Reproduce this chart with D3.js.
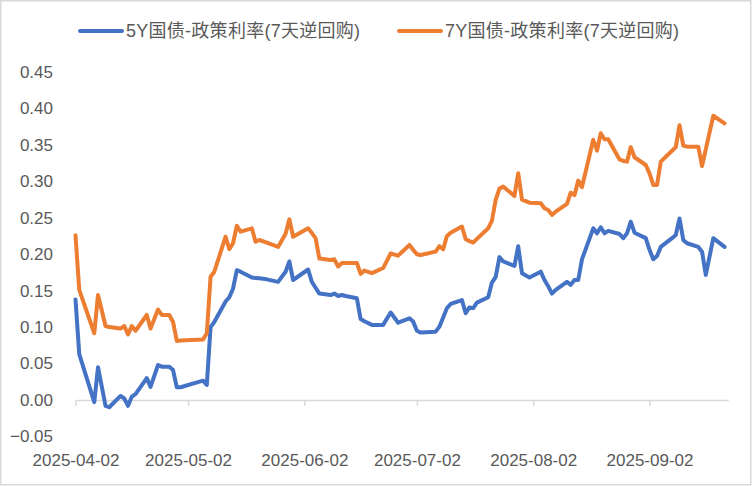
<!DOCTYPE html>
<html>
<head>
<meta charset="utf-8">
<script src="https://cdn.jsdelivr.net/npm/d3@7"></script>
<style>
  html, body { margin: 0; padding: 0; background: #fff; }
  svg { display: block; }
  text { font-family: "Liberation Sans", "Noto Sans CJK SC", sans-serif; fill: #595959; }
</style>
</head>
<body>
<svg id="chart" width="752" height="486"></svg>
<script>
// ---- data ----
const dates = [
  "2025-04-02","2025-04-03","2025-04-07","2025-04-08","2025-04-10","2025-04-11","2025-04-14","2025-04-15",
  "2025-04-16","2025-04-17","2025-04-18","2025-04-21","2025-04-22","2025-04-24","2025-04-25","2025-04-27",
  "2025-04-28","2025-04-29","2025-04-30","2025-05-06","2025-05-07","2025-05-08","2025-05-09","2025-05-12",
  "2025-05-13","2025-05-14","2025-05-15","2025-05-16","2025-05-19","2025-05-20","2025-05-21","2025-05-23",
  "2025-05-26","2025-05-28","2025-05-29","2025-05-30","2025-06-03","2025-06-04","2025-06-05","2025-06-06",
  "2025-06-09","2025-06-10","2025-06-11","2025-06-12","2025-06-13","2025-06-16","2025-06-17","2025-06-18",
  "2025-06-20","2025-06-23","2025-06-25","2025-06-27","2025-06-30","2025-07-01","2025-07-02","2025-07-03",
  "2025-07-07","2025-07-08","2025-07-09","2025-07-10","2025-07-11","2025-07-14","2025-07-15","2025-07-16",
  "2025-07-17","2025-07-18","2025-07-21","2025-07-22","2025-07-23","2025-07-24","2025-07-25","2025-07-28",
  "2025-07-29","2025-07-30","2025-08-01","2025-08-04","2025-08-05","2025-08-06","2025-08-07","2025-08-08",
  "2025-08-11","2025-08-12","2025-08-13","2025-08-14","2025-08-15","2025-08-18","2025-08-19","2025-08-20",
  "2025-08-21","2025-08-22","2025-08-25","2025-08-26","2025-08-27","2025-08-28","2025-08-29","2025-09-01",
  "2025-09-02","2025-09-03","2025-09-04","2025-09-05","2025-09-08","2025-09-09","2025-09-10","2025-09-11",
  "2025-09-12","2025-09-15","2025-09-16","2025-09-17","2025-09-19","2025-09-22"
];
const spread5Y = [
  0.138,0.063,-0.003,0.045,-0.008,-0.010,0.0055,0.002,
  -0.008,0.0045,0.008,0.030,0.018,0.048,0.0457,0.0457,
  0.041,0.0174,0.0174,0.0265,0.0206,0.100,0.107,0.135,
  0.141,0.153,0.178,0.176,0.168,0.1675,0.167,0.1655,
  0.162,0.176,0.190,0.1646,0.179,0.162,0.154,0.146,
  0.144,0.146,0.1427,0.144,0.1427,0.1395,0.111,0.108,
  0.103,0.103,0.120,0.106,0.112,0.1075,0.095,0.0924,
  0.0937,0.1006,0.113,0.126,0.1317,0.137,0.119,0.127,
  0.126,0.1335,0.141,0.161,0.169,0.196,0.190,0.184,
  0.211,0.174,0.168,0.176,0.1646,0.156,0.146,0.151,
  0.162,0.158,0.1646,0.1646,0.193,0.2355,0.2287,0.237,
  0.2287,0.232,0.2277,0.222,0.2287,0.2446,0.2295,0.222,
  0.206,0.193,0.1976,0.210,0.222,0.2264,0.249,0.2195,
  0.215,0.210,0.2035,0.1715,0.222,0.210
];
const spread7Y = [
  0.226,0.151,0.0915,0.144,0.1015,0.100,0.098,0.1015,
  0.090,0.1015,0.095,0.1166,0.098,0.124,0.1166,0.1166,
  0.107,0.081,0.0815,0.083,0.0915,0.169,0.176,0.224,
  0.207,0.215,0.239,0.231,0.2355,0.217,0.2195,0.216,
  0.210,0.228,0.248,0.224,0.2355,0.229,0.222,0.194,
  0.192,0.193,0.183,0.188,0.188,0.188,0.173,0.1775,
  0.174,0.181,0.201,0.198,0.2127,0.206,0.200,0.199,
  0.2035,0.211,0.2067,0.225,0.2295,0.238,0.2205,0.218,
  0.216,0.221,0.2355,0.246,0.2744,0.290,0.2927,0.280,
  0.311,0.275,0.2707,0.270,0.263,0.2607,0.254,0.2583,
  0.269,0.2844,0.281,0.301,0.292,0.357,0.342,0.366,
  0.3577,0.3577,0.330,0.328,0.327,0.347,0.333,0.3224,
  0.311,0.295,0.295,0.327,0.342,0.347,0.377,0.349,
  0.3475,0.3475,0.321,0.344,0.390,0.3796
];
const seriesNames = ["5Y国债-政策利率(7天逆回购)", "7Y国债-政策利率(7天逆回购)"];
const seriesColors = ["#4472C4", "#ED7D31"];
const yTickValues = [-0.05, 0, 0.05, 0.10, 0.15, 0.20, 0.25, 0.30, 0.35, 0.40, 0.45];
const xTickLabels = ["2025-04-02","2025-05-02","2025-06-02","2025-07-02","2025-08-02","2025-09-02"];
const xDomain = ["2025-04-02", "2025-09-23"];

// ---- drawing ----
const parse = d3.utcParse("%Y-%m-%d");
const fmtDate = d3.utcFormat("%Y-%m-%d");
const svg = d3.select("#chart");

svg.append("rect").attr("x", 0.75).attr("y", 0.75).attr("width", 750).attr("height", 484)
  .attr("fill", "#fff").attr("stroke", "#D9D9D9").attr("stroke-width", 1.5);

const x = d3.scaleUtc().domain(xDomain.map(parse)).range([75.5, 728.3]);
const y = d3.scaleLinear().domain([-0.05, 0.45]).range([436.4, 72]);

// x axis at value 0
const xAxis = d3.axisBottom(x)
  .tickValues(xTickLabels.map(parse))
  .tickFormat(fmtDate)
  .tickSizeInner(6).tickSizeOuter(0).tickPadding(48);
const gx = svg.append("g").attr("transform", `translate(0,${y(0)})`).call(xAxis);
gx.select(".domain").attr("stroke", "#D9D9D9").attr("stroke-width", 1.5);
gx.selectAll(".tick line").attr("stroke", "#D9D9D9").attr("stroke-width", 1.5);
gx.selectAll(".tick text").attr("font-size", 17).attr("fill", "#595959")
  .style("font-family", '"Liberation Sans", "Noto Sans CJK SC", sans-serif');

// y axis labels
const yAxis = d3.axisLeft(y).tickValues(yTickValues).tickFormat(d3.format(".2f"))
  .tickSize(0).tickPadding(0);
const gy = svg.append("g").attr("transform", "translate(53,0)").call(yAxis);
gy.select(".domain").remove();
gy.selectAll(".tick text").attr("font-size", 17).attr("fill", "#595959")
  .style("font-family", '"Liberation Sans", "Noto Sans CJK SC", sans-serif');

// lines
const rows = dates.map((d, i) => ({ date: parse(d), v: [spread5Y[i], spread7Y[i]] }));
const line = k => d3.line().x(d => x(d.date)).y(d => y(d.v[k]));
[0, 1].forEach(k => {
  svg.append("path").datum(rows)
    .attr("fill", "none").attr("stroke", seriesColors[k]).attr("stroke-width", 4)
    .attr("stroke-linejoin", "round").attr("stroke-linecap", "round")
    .attr("d", line(k));
});

// legend
const legendX = [80, 399];
seriesNames.forEach((name, k) => {
  const g = svg.append("g").attr("transform", `translate(${legendX[k]},31)`);
  g.append("line").attr("x1", 0).attr("x2", 42).attr("y1", 0).attr("y2", 0)
    .attr("stroke", seriesColors[k]).attr("stroke-width", 4).attr("stroke-linecap", "round");
  g.append("text").attr("x", 46).attr("y", 0).attr("dy", "0.35em")
    .attr("font-size", 18).attr("textLength", 234).attr("lengthAdjust", "spacing")
    .text(name);
});
</script>
</body>
</html>
